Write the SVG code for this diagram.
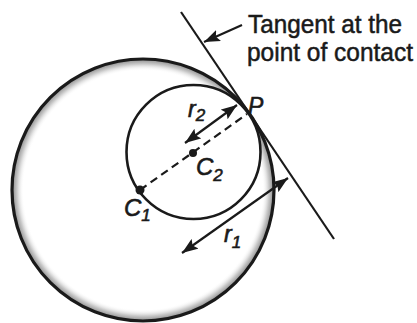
<svg xmlns="http://www.w3.org/2000/svg" width="417" height="323" viewBox="0 0 417 323">
<style>
.ln{stroke:#1a1a1a;fill:none;stroke-width:2.2}
.txt{font-family:"Liberation Sans",Arial,sans-serif;fill:#1a1a1a;stroke:#1a1a1a;stroke-width:0.5}
.it{font-family:"Liberation Sans",Arial,sans-serif;font-style:italic;fill:#1a1a1a;stroke:#1a1a1a;stroke-width:0.6}
</style>
<defs>
<radialGradient id="band" cx="0.5" cy="0.5" r="0.5">
<stop offset="0.91" stop-color="#ffffff" stop-opacity="0"/>
<stop offset="0.96" stop-color="#cccccc"/>
<stop offset="1" stop-color="#8a8a8a"/>
</radialGradient>
<marker id="ah" viewBox="0 0 16 12" refX="16" refY="6" markerWidth="16" markerHeight="12" markerUnits="userSpaceOnUse" orient="auto-start-reverse">
<path d="M0,0 L16,6 L0,12 L3,6 Z" fill="#1a1a1a"/>
</marker>
</defs>
<rect width="417" height="323" fill="#ffffff"/>
<g id="large-circle">
<circle cx="143" cy="190" r="131" fill="url(#band)" stroke="#1a1a1a" stroke-width="3.2"/>
</g>
<g id="small-circle">
<circle cx="193.5" cy="152" r="67" fill="#ffffff" stroke="#1a1a1a" stroke-width="2.6"/>
</g>
<g id="connectors">
<line class="ln" x1="181" y1="12" x2="334" y2="239"/>
<line class="ln" x1="140" y1="190" x2="247" y2="114" stroke-width="2.6" stroke-dasharray="8,5"/>
<line class="ln" x1="185" y1="143" x2="237" y2="105" marker-start="url(#ah)" marker-end="url(#ah)"/>
<line class="ln" x1="182" y1="253" x2="288" y2="178" marker-start="url(#ah)" marker-end="url(#ah)"/>
<line class="ln" x1="242" y1="25" x2="204" y2="42" marker-end="url(#ah)"/>
</g>
<g id="C1">
<circle cx="140" cy="190" r="4.5" fill="#1a1a1a"/>
<text class="it" x="124" y="216" font-size="24">C<tspan font-size="17" dy="5">1</tspan></text>
</g>
<g id="C2">
<circle cx="193" cy="153" r="4" fill="#1a1a1a"/>
<text class="it" x="196" y="175" font-size="24">C<tspan font-size="17" dy="6">2</tspan></text>
</g>
<g id="P">
<text class="it" x="248" y="114" font-size="23">P</text>
</g>
<g id="r2">
<text class="it" x="188" y="117" font-size="23">r<tspan font-size="17" dy="4">2</tspan></text>
</g>
<g id="r1">
<text class="it" x="224" y="242" font-size="23">r<tspan font-size="17" dy="6">1</tspan></text>
</g>
<g id="tangent-label">
<text class="txt" x="248" y="33" font-size="25" textLength="154" lengthAdjust="spacingAndGlyphs">Tangent at the</text>
<text class="txt" x="247" y="61" font-size="25" textLength="166" lengthAdjust="spacingAndGlyphs">point of contact</text>
</g>
</svg>
